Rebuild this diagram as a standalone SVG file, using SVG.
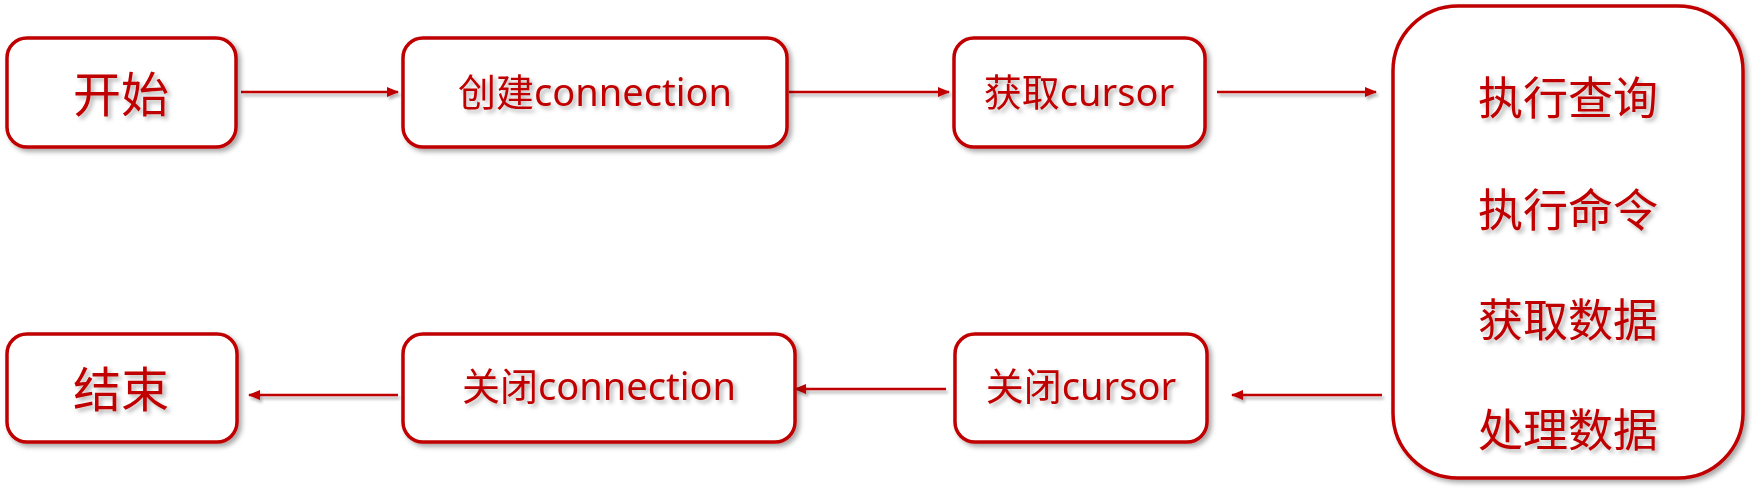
<svg xmlns="http://www.w3.org/2000/svg" width="1758" height="495" viewBox="0 0 1758 495">
<defs>
<filter id="sh" x="-10%" y="-10%" width="130%" height="130%">
<feDropShadow dx="3" dy="3" stdDeviation="2.5" flood-color="#000" flood-opacity="0.35"/>
</filter>
<filter id="tsh" x="-10%" y="-20%" width="130%" height="150%">
<feDropShadow dx="3" dy="3" stdDeviation="2" flood-color="#000" flood-opacity="0.3"/>
</filter>
<filter id="lsh" filterUnits="userSpaceOnUse" x="0" y="0" width="1758" height="495">
<feDropShadow dx="2" dy="3" stdDeviation="1.5" flood-color="#000" flood-opacity="0.3"/>
</filter>
<marker id="ah" viewBox="0 0 12 10" refX="11" refY="5" markerWidth="12" markerHeight="10" markerUnits="userSpaceOnUse" orient="auto">
<path d="M0,0 L12,5 L0,10 z" fill="#C00000"/>
</marker>
<style>
.box{fill:#fff;stroke:#C00000;stroke-width:3.5;filter:url(#sh)}
.t{fill:#C00000;font-family:"Noto Sans","Noto Sans CJK SC",sans-serif;text-anchor:middle;filter:url(#tsh)}
.c{stroke:#C00000;stroke-width:2.5;fill:none;marker-end:url(#ah)}
</style>
</defs>
<rect width="1758" height="495" fill="#fff"/>
<g id="connectors" filter="url(#lsh)">
<line class="c" x1="241" y1="92" x2="398" y2="92"/>
<line class="c" x1="789" y1="92" x2="949" y2="92"/>
<line class="c" x1="1217" y1="92" x2="1376" y2="92"/>
<line class="c" x1="1382" y1="395" x2="1232" y2="395"/>
<line class="c" x1="946" y1="389" x2="795" y2="389"/>
<line class="c" x1="398" y1="395" x2="249" y2="395"/>
</g>
<g id="start">
<rect class="box" x="7" y="38" width="229" height="109" rx="20"/>
<text class="t" x="121" y="112" font-size="48">开始</text>
</g>
<g id="create">
<rect class="box" x="403" y="38" width="384" height="109" rx="20"/>
<text class="t" x="595" y="106" font-size="38">创建connection</text>
</g>
<g id="getcursor">
<rect class="box" x="954" y="38" width="251" height="109" rx="20"/>
<text class="t" x="1079" y="106" font-size="38">获取cursor</text>
</g>
<g id="ops">
<rect class="box" x="1393" y="6" width="350" height="472" rx="65"/>
<text class="t" x="1568" y="115" font-size="45">执行查询</text>
<text class="t" x="1568" y="227" font-size="45">执行命令</text>
<text class="t" x="1568" y="337" font-size="45">获取数据</text>
<text class="t" x="1568" y="447" font-size="45">处理数据</text>
</g>
<g id="closecursor">
<rect class="box" x="955" y="334" width="252" height="108" rx="20"/>
<text class="t" x="1081" y="400" font-size="38">关闭cursor</text>
</g>
<g id="closeconn">
<rect class="box" x="403" y="334" width="392" height="108" rx="20"/>
<text class="t" x="599" y="400" font-size="38">关闭connection</text>
</g>
<g id="end">
<rect class="box" x="7" y="334" width="230" height="108" rx="20"/>
<text class="t" x="121" y="407" font-size="48">结束</text>
</g>
</svg>
